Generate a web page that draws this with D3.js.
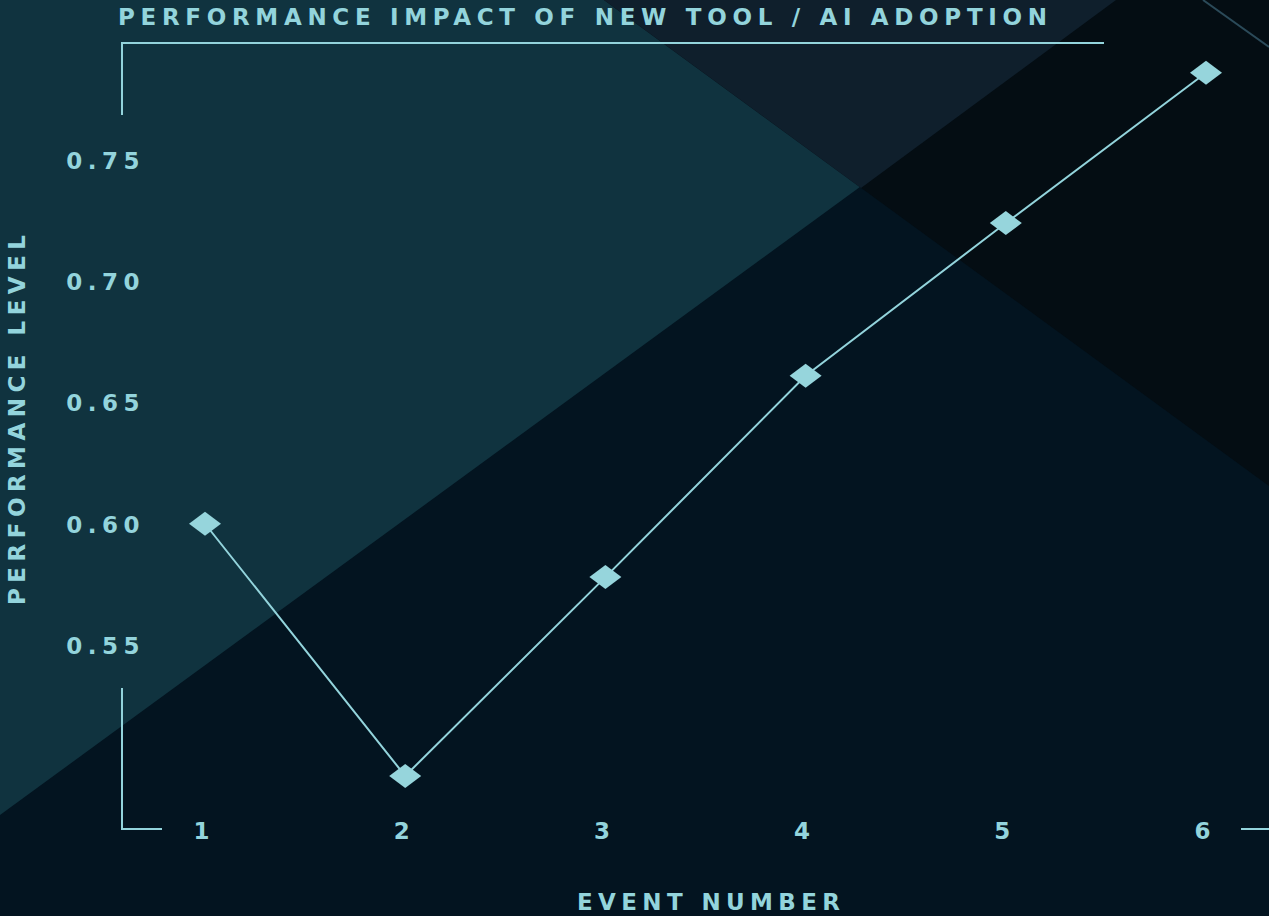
<!DOCTYPE html>
<html>
<head>
<meta charset="utf-8">
<script src="https://cdn.jsdelivr.net/npm/d3@7"></script>
<style>
  html, body { margin: 0; padding: 0; background: #031420; }
  svg { display: block; }
</style>
</head>
<body>
<svg id="chart"></svg>
<script>
// chart values
const events = [1, 2, 3, 4, 5, 6];
const performance = [0.600, 0.496, 0.578, 0.661, 0.724, 0.786];
const yTicks = [0.55, 0.60, 0.65, 0.70, 0.75];
const titleText = "PERFORMANCE IMPACT OF NEW TOOL / AI ADOPTION";
const xLabel = "EVENT NUMBER";
const yLabel = "PERFORMANCE LEVEL";

const width = 1269, height = 916;
const ink = "#93d4dc";
const font = "'DejaVu Sans', sans-serif";

const svg = d3.select("#chart")
  .attr("width", width)
  .attr("height", height);

// background shapes
const bg = svg.append("g");
bg.append("rect").attr("width", width).attr("height", height).attr("fill", "#031420");
bg.append("polygon").attr("points", "0,0 1116,0 0,815").attr("fill", "#10333f");
bg.append("polygon").attr("points", "604,0 1269,0 1269,486").attr("fill", "#040d13");
bg.append("polygon").attr("points", "604,0 1116,0 861,188").attr("fill", "#0f1f2c");
bg.append("line")
  .attr("x1", 1203).attr("y1", 0).attr("x2", 1269).attr("y2", 47)
  .attr("stroke", "#2b4a59").attr("stroke-width", 2);

// scales
const x = d3.scaleLinear().domain([1, 6]).range([205, 1206]);
const y = d3.scaleLinear().domain([0.55, 0.75]).range([645, 160]);

// frame corners
const frame = svg.append("g").attr("stroke", ink).attr("stroke-width", 2).attr("fill", "none");
frame.append("path").attr("d", "M122,115V43H1104");
frame.append("path").attr("d", "M122,688V829H162");
frame.append("path").attr("d", "M1241,829H1269");

// title
svg.append("text")
  .attr("x", 118)
  .attr("y", 25)
  .attr("fill", ink)
  .attr("textLength", 929)
  .attr("lengthAdjust", "spacing")
  .style("font-family", font)
  .style("font-weight", "bold")
  .style("font-size", "23px")
  .text(titleText);

// Y axis ticks
const yAxis = svg.append("g")
  .attr("transform", "translate(145,0)")
  .call(d3.axisLeft(y).tickValues(yTicks).tickFormat(d3.format(".2f")).tickSize(0).tickPadding(0));
yAxis.select(".domain").remove();
yAxis.selectAll("text")
  .attr("fill", ink)
  .attr("dy", "0.36em")
  .style("font-family", font)
  .style("font-weight", "bold")
  .style("font-size", "23px")
  .style("letter-spacing", "5.5px");

// X axis ticks
const xAxis = svg.append("g")
  .attr("transform", "translate(0,831)")
  .call(d3.axisBottom(x).tickValues(events).tickFormat(d3.format("d")).tickSize(0).tickPadding(0));
xAxis.select(".domain").remove();
xAxis.selectAll("text")
  .attr("y", 0)
  .attr("dy", "0.36em")
  .attr("fill", ink)
  .style("font-family", font)
  .style("font-weight", "bold")
  .style("font-size", "23px")
  .style("letter-spacing", "8px");

// axis titles
svg.append("text")
  .attr("x", 577)
  .attr("y", 910)
  .attr("fill", ink)
  .attr("textLength", 263)
  .attr("lengthAdjust", "spacing")
  .style("font-family", font)
  .style("font-weight", "bold")
  .style("font-size", "23px")
  .text(xLabel);

svg.append("text")
  .attr("transform", "translate(25,605) rotate(-90)")
  .attr("fill", ink)
  .attr("textLength", 370)
  .attr("lengthAdjust", "spacing")
  .style("font-family", font)
  .style("font-weight", "bold")
  .style("font-size", "23px")
  .text(yLabel);

// line + markers
const pts = events.map((e, i) => ({ e: e, v: performance[i] }));

svg.append("path")
  .datum(pts)
  .attr("fill", "none")
  .attr("stroke", ink)
  .attr("stroke-width", 2)
  .attr("d", d3.line().x(d => x(d.e)).y(d => y(d.v)));

svg.append("g")
  .selectAll("path")
  .data(pts)
  .enter()
  .append("path")
    .attr("d", "M0,-12L16,0L0,12L-16,0Z")
    .attr("transform", d => "translate(" + x(d.e) + "," + y(d.v) + ")")
    .attr("fill", "#96d5dc");
</script>
</body>
</html>
